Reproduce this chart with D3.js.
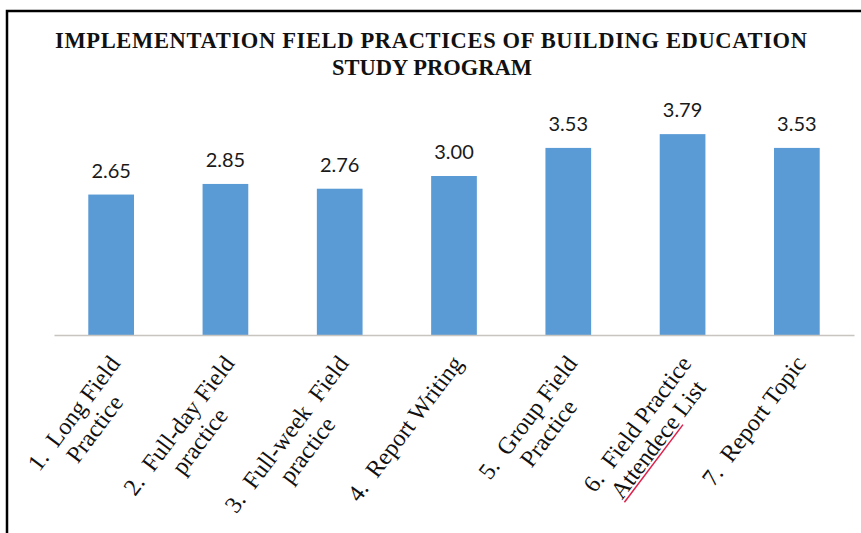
<!DOCTYPE html>
<html>
<head>
<meta charset="utf-8">
<script src="https://cdn.jsdelivr.net/npm/d3@7"></script>
<style>
  html, body { margin: 0; padding: 0; background: #fff; }
  svg { display: block; }
</style>
</head>
<body>
<svg id="chart" width="861" height="533"></svg>
<script>
// ---- data ----
const titleLines = ["IMPLEMENTATION FIELD PRACTICES OF BUILDING EDUCATION", "STUDY PROGRAM"];
const categories = [
  "1.  Long Field\nPractice",
  "2.  Full-day Field\npractice",
  "3.  Full-week  Field\npractice",
  "4.  Report Writing",
  "5.  Group Field\nPractice",
  "6.  Field Practice\nAttendece List",
  "7.  Report Topic"
];
const values = [2.65, 2.85, 2.76, 3.00, 3.53, 3.79, 3.53];
const yDomain = [0, 4.5];

// ---- layout ----
const svg = d3.select("#chart");
const W = 861, H = 533;
const plotLeft = 54, plotRight = 854, plotBottom = 335, plotTop = 96.5;

svg.append("rect").attr("width", W).attr("height", H).attr("fill", "#fff");

// frame (top and left edges visible)
svg.append("path")
  .attr("d", `M7,${H} L7,11 L${W},11`)
  .attr("fill", "none").attr("stroke", "#000").attr("stroke-width", 2.5);

// title
const title = svg.append("text")
  .attr("text-anchor", "middle")
  .attr("font-family", "'Liberation Serif', 'Times New Roman', serif")
  .attr("font-weight", "bold")
  .attr("font-size", 22.5)
  .attr("fill", "#111");
titleLines.forEach((t, i) => {
  const ts = title.append("tspan").attr("x", i === 0 ? 431 : 432).attr("y", 48 + i * 27).text(t);
  if (i === 0) ts.attr("textLength", 752).attr("lengthAdjust", "spacing");
});

const x = d3.scaleBand().domain(categories).range([plotLeft, plotRight])
  .paddingInner(0.6).paddingOuter(0.3);
const y = d3.scaleLinear().domain(yDomain).range([plotBottom, plotTop]);

// bars
svg.append("g").selectAll("rect").data(values).join("rect")
  .attr("x", (d, i) => x(categories[i]))
  .attr("width", x.bandwidth())
  .attr("y", d => y(d))
  .attr("height", d => y(0) - y(d))
  .attr("fill", "#5b9bd5");

// value labels
svg.append("g").selectAll("text").data(values).join("text")
  .attr("x", (d, i) => x(categories[i]) + x.bandwidth() / 2)
  .attr("y", d => y(d) - 17)
  .attr("text-anchor", "middle")
  .attr("font-family", "Lato, 'Open Sans', sans-serif")
  .attr("font-size", 20)
  .attr("fill", "#1a1a1a")
  .text(d => d3.format(".2f")(d));

// x axis
const xAxis = d3.axisBottom(x).tickSize(0).tickFormat("");
const gx = svg.append("g").attr("transform", `translate(0,${plotBottom})`).call(xAxis);
gx.select(".domain").attr("stroke", "#c8c4c0").attr("stroke-width", 1.5);

// rotated multi-line category labels
const angle = -53, fs = 24, lh = 26;
const labG = svg.append("g");
categories.forEach((c, i) => {
  const cx = x(c) + x.bandwidth() / 2;
  const g = labG.append("g").attr("transform", `translate(${cx - 5},${plotBottom + 17.5}) rotate(${angle})`);
  const lines = c.split("\n");
  const texts = lines.map((ln, j) => g.append("text")
    .attr("font-family", "'Liberation Serif', 'Times New Roman', serif")
    .attr("font-size", fs)
    .attr("fill", "#111")
    .attr("text-anchor", "middle")
    .style("white-space", "pre")
    .attr("y", fs * 0.78 + j * lh)
    .text(ln));
  const wMax = d3.max(texts, t => t.node().getComputedTextLength());
  texts.forEach(t => t.attr("x", -wMax / 2));
  // spell-check squiggle under "Attendece"
  if (c.indexOf("Attendece") >= 0) {
    const t = texts[1];
    const wl = t.node().getComputedTextLength();
    const sub = t.node().getSubStringLength(0, 9);
    const x0 = -wMax / 2 - wl / 2;
    g.append("line")
      .attr("x1", x0).attr("x2", x0 + sub)
      .attr("y1", fs * 0.78 + lh + 3).attr("y2", fs * 0.78 + lh + 3)
      .attr("stroke", "#e0204a").attr("stroke-width", 1.5);
  }
});
</script>
</body>
</html>
